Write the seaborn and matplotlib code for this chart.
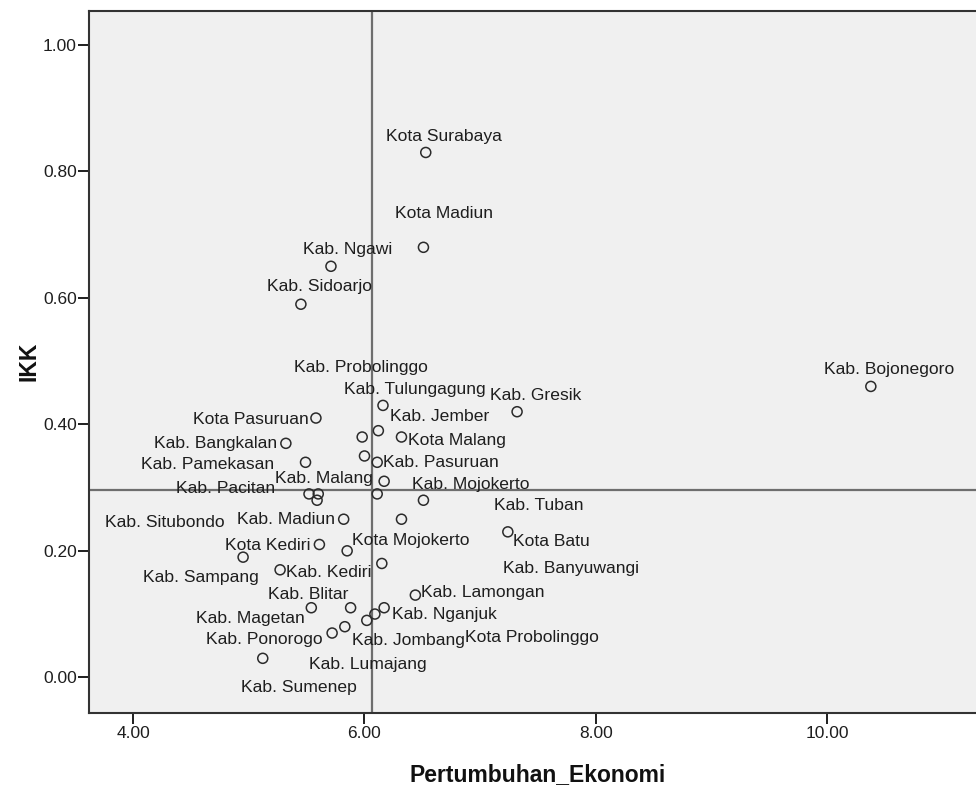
import numpy as np
import pandas as pd
import matplotlib
matplotlib.use("Agg")
import matplotlib.pyplot as plt
from matplotlib.ticker import FormatStrFormatter
import seaborn as sns

# ---- data ----
wilayah = [
    "Kota Surabaya", "Kota Madiun", "Kab. Ngawi", "Kab. Sidoarjo", "Kab. Bojonegoro",
    "Kab. Gresik", "Kab. Jember", "Kota Pasuruan", "Kab. Bangkalan", "Kab. Probolinggo",
    "Kab. Tulungagung", "Kota Malang", "Kab. Pamekasan", "Kab. Malang", "Kab. Pasuruan",
    "Kab. Mojokerto", "Kab. Pacitan", "", "Kab. Situbondo", "",
    "Kab. Tuban", "Kab. Madiun", "", "Kota Batu", "Kota Kediri",
    "Kota Mojokerto", "Kab. Sampang", "Kab. Kediri", "Kab. Banyuwangi", "Kab. Lamongan",
    "Kab. Magetan", "Kab. Blitar", "Kab. Nganjuk", "Kota Probolinggo", "Kab. Lumajang",
    "Kab. Jombang", "Kab. Ponorogo", "Kab. Sumenep",
]
pertumbuhan_ekonomi = [
    6.53, 6.51, 5.71, 5.45, 10.38,
    7.32, 6.16, 5.58, 5.32, 5.98,
    6.12, 6.32, 5.49, 6.00, 6.11,
    6.17, 5.52, 5.60, 5.59, 6.11,
    6.51, 5.82, 6.32, 7.24, 5.61,
    5.85, 4.95, 5.27, 6.15, 6.44,
    5.54, 5.88, 6.17, 6.09, 6.02,
    5.83, 5.72, 5.12,
]
ikk = [
    0.83, 0.68, 0.65, 0.59, 0.46,
    0.42, 0.43, 0.41, 0.37, 0.38,
    0.39, 0.38, 0.34, 0.35, 0.34,
    0.31, 0.29, 0.29, 0.28, 0.29,
    0.28, 0.25, 0.25, 0.23, 0.21,
    0.20, 0.19, 0.17, 0.18, 0.13,
    0.11, 0.11, 0.11, 0.10, 0.09,
    0.08, 0.07, 0.03,
]
x_ticks = [4, 6, 8, 10]
y_ticks = [0.0, 0.2, 0.4, 0.6, 0.8, 1.0]

# ---- layout: label offsets (pixels, left edge / vertical centre relative to point) ----
label_offsets = [
    (-40, 18), (-28, 36), (-28, 19), (-34, 20), (-47, 19),
    (-27, 19), (7, -9), (-123, 1), (-132, 2), (-68, 72),
    (-34, 44), (7, -1), (-165, 0), (-89, -20), (6, 2),
    (28, -1), (-133, 8), (0, 0), (-212, -20), (0, 0),
    (71, -3), (-107, 2), (0, 0), (5, -7), (-94, 2),
    (5, 13), (-100, -18), (6, 0), (121, -3), (6, 5),
    (-115, -8), (-83, 16), (8, -4), (90, -21), (-58, -42),
    (7, -11), (-126, -4), (-22, -27),
]

df = pd.DataFrame({"Pertumbuhan_Ekonomi": pertumbuhan_ekonomi, "IKK": ikk, "Wilayah": wilayah})

sns.set_theme(style="white")
plt.rcParams["font.family"] = ["Liberation Sans", "DejaVu Sans"]

W, H = 976, 787
fig = plt.figure(figsize=(W / 100, H / 100), dpi=100)
fig.patch.set_facecolor("white")
left_px, right_px, top_px, bottom_px = 89, 978, 10.7, 712.7
ax = fig.add_axes([left_px / W, (H - bottom_px) / H, (right_px - left_px) / W, (bottom_px - top_px) / H])
ax.set_facecolor("#f0f0f0")

# reference lines at the means
ax.axvline(np.mean(pertumbuhan_ekonomi), color="#6e6e6e", lw=1.6, zorder=1)
ax.axhline(np.mean(ikk), color="#6e6e6e", lw=1.6, zorder=1)

sns.scatterplot(data=df, x="Pertumbuhan_Ekonomi", y="IKK", ax=ax,
                marker="o", s=52, facecolors="none", edgecolor="#2b2b2b",
                linewidth=1.1, zorder=3)

for name, xv, yv, (dx, dy) in zip(wilayah, pertumbuhan_ekonomi, ikk, label_offsets):
    if not name:
        continue
    ax.annotate(name, (xv, yv), xytext=(dx, dy - 2.5), textcoords="offset pixels",
                ha="left", va="center", fontsize=12.6, color="#1e1e1e", zorder=4)

ax.set_xlim(3.617, 11.307)
ax.set_ylim(-0.056, 1.0542)
ax.set_xticks(x_ticks)
ax.set_yticks(y_ticks)
ax.xaxis.set_major_formatter(FormatStrFormatter("%.2f"))
ax.yaxis.set_major_formatter(FormatStrFormatter("%.2f"))
ax.tick_params(axis="both", direction="out", length=8, width=1.4, color="#1e1e1e",
               labelsize=12.5, labelcolor="#1e1e1e", left=True, bottom=True)
ax.tick_params(axis="y", pad=0.8)
ax.tick_params(axis="x", pad=1.5)

for side in ["left", "bottom", "top"]:
    ax.spines[side].set_visible(True)
    ax.spines[side].set_color("#333333")
    ax.spines[side].set_linewidth(1.5)
ax.spines["right"].set_visible(False)

ax.set_xlabel("Pertumbuhan_Ekonomi", fontsize=16.5, fontweight="bold", color="#111111")
ax.set_ylabel("IKK", fontsize=16.5, fontweight="bold", color="#111111")
ax.xaxis.label.set(va="center", ha="center")
ax.yaxis.label.set(va="center", ha="center", rotation_mode="default")
ax.xaxis.set_label_coords((538 - left_px) / (right_px - left_px), -(775 - bottom_px) / (bottom_px - top_px))
ax.yaxis.set_label_coords((29 - left_px) / (right_px - left_px), (bottom_px - 361) / (bottom_px - top_px))

fig.savefig("out.png", dpi=100, facecolor="white")
